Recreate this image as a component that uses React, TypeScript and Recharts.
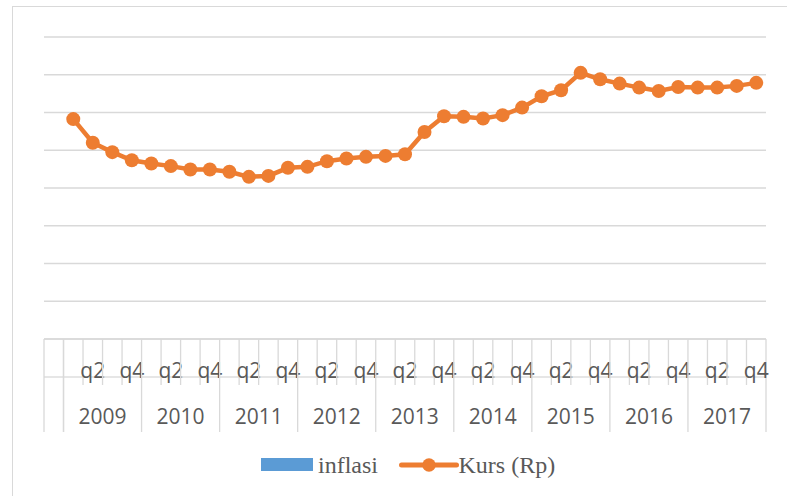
import React from "react";
import { ComposedChart, Line, XAxis, YAxis, CartesianGrid } from "recharts";

/* ── Data ─────────────────────────────────────────────────── */
const years = ["2009", "2010", "2011", "2012", "2013", "2014", "2015", "2016", "2017"];
const quarters = ["q1", "q2", "q3", "q4"];
// Kurs (Rp) per quarter, 2009 q1 .. 2017 q4
const kurs = [
  11650, 10400, 9900, 9470, 9300, 9160, 8980, 8980, 8860, 8590, 8640, 9070,
  9120, 9420, 9560, 9650, 9700, 9790, 10970, 11800, 11770, 11680, 11860, 12260,
  12860, 13180, 14100, 13760, 13530, 13320, 13140, 13350, 13320, 13320, 13410, 13570,
];
const yTicks = [0, 2000, 4000, 6000, 8000, 10000, 12000, 14000, 16000];
const legendItems = [
  { name: "inflasi", type: "bar", color: "#5B9BD5" },
  { name: "Kurs (Rp)", type: "line", color: "#ED7D31" },
];

// first (empty) category comes from the blank header column of the sheet
const data = [
  { key: "start", year: "", q: "", kurs: null as number | null },
  ...years.flatMap((y, yi) =>
    quarters.map((q, qi) => ({ key: `${y}-${q}`, year: y, q, kurs: kurs[yi * 4 + qi] }))
  ),
];

/* ── Layout ───────────────────────────────────────────────── */
const W = 787;
const H = 496;
const MARGIN = { top: 37, right: 21, left: 44, bottom: 0 };
const AXIS_H = 157;
const BAND = (W - MARGIN.left - MARGIN.right) / data.length;
const GRID = "#d9d9d9";
const TEXT = "#595959";
const ORANGE = "#ED7D31";

/* ── Two-level category axis ──────────────────────────────── */
function AxisTick(props: any) {
  const { x, y, index } = props;
  const row = data[index];
  if (!row) return null;
  const half = BAND / 2;
  const left = x - half;
  const right = x + half;
  const yearEdge = row.q === "q1" || row.q === "";
  const isLast = index === data.length - 1;
  return (
    <g>
      <line x1={left} x2={left} y1={y} y2={yearEdge ? y + 93 : y + 46} stroke={GRID} strokeWidth={1.3} />
      {row.key === "start" && (
        <line x1={right} x2={right} y1={y} y2={y + 93} stroke={GRID} strokeWidth={1.3} />
      )}
      {isLast && <line x1={right} x2={right} y1={y} y2={y + 93} stroke={GRID} strokeWidth={1.3} />}
      <line x1={left} x2={right} y1={y + 38} y2={y + 38} stroke={GRID} strokeWidth={1.3} />
      {(row.q === "q2" || row.q === "q4") && (
        <text x={x} y={y + 39} textAnchor="middle" fill={TEXT} fontSize={21} fontFamily="'Open Sans', sans-serif">
          {row.q}
        </text>
      )}
      {row.q === "q2" && (
        <text x={right} y={y + 85} textAnchor="middle" fill={TEXT} fontSize={21} fontFamily="'Open Sans', sans-serif">
          {row.year}
        </text>
      )}
    </g>
  );
}

/* ── Legend ───────────────────────────────────────────────── */
function LegendOverlay() {
  let cx = 261;
  const cy = 465;
  return (
    <svg width={W} height={H} style={{ position: "absolute", left: 0, top: 0, pointerEvents: "none" }}>
      {legendItems.map((it) => {
        const start = cx;
        const iconW = it.type === "bar" ? 52 : 55;
        const textX = start + iconW + (it.type === "bar" ? 5 : 2);
        const textW = it.name.length * 8.5;
        cx = textX + textW + 24;
        return (
          <g key={it.name}>
            {it.type === "bar" ? (
              <rect x={start} y={cy - 7} width={iconW} height={13} fill={it.color} />
            ) : (
              <g>
                <line x1={start} x2={start + iconW} y1={cy} y2={cy} stroke={it.color} strokeWidth={5} strokeLinecap="round" />
                <circle cx={start + iconW / 2} cy={cy} r={6.7} fill={it.color} />
              </g>
            )}
            <text x={textX} y={cy + 7.5} fill={TEXT} fontSize={24} fontFamily="'Liberation Serif', 'Times New Roman', serif">
              {it.name}
            </text>
          </g>
        );
      })}
    </svg>
  );
}

export default function App() {
  return (
    <div style={{ position: "absolute", left: 0, top: 0, width: W, height: H, overflow: "hidden", background: "#fff" }}>
      <div
        style={{
          position: "absolute",
          left: 12,
          top: 6,
          width: W,
          height: H,
          borderLeft: `1.5px solid ${GRID}`,
          borderTop: `1.5px solid ${GRID}`,
        }}
      />
      <ComposedChart width={W} height={H} data={data} margin={MARGIN}>
        <CartesianGrid vertical={false} stroke={GRID} strokeWidth={1.3} />
        <YAxis hide domain={[0, 16000]} ticks={yTicks} />
        <XAxis
          dataKey="key"
          scale="band"
          interval={0}
          height={AXIS_H}
          tickLine={false}
          tickSize={0}
          tickMargin={0}
          axisLine={{ stroke: GRID, strokeWidth: 1.3 }}
          tick={<AxisTick />}
        />
        <Line
          dataKey="kurs"
          name="Kurs (Rp)"
          stroke={ORANGE}
          strokeWidth={4.5}
          dot={{ r: 7, fill: ORANGE, stroke: ORANGE, strokeWidth: 0 }}
          isAnimationActive={false}
          connectNulls={false}
        />
      </ComposedChart>
      <LegendOverlay />
    </div>
  );
}
